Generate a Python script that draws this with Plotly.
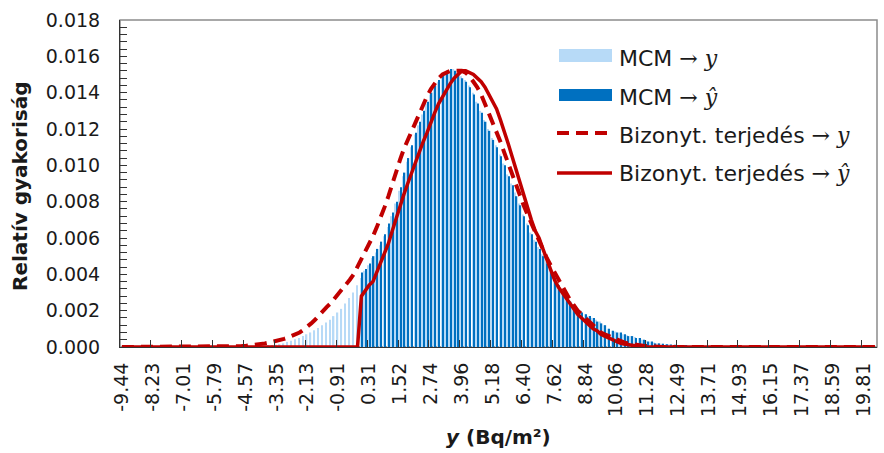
import plotly.graph_objects as go

# ---------------- data ----------------
bin_start = -9.44
bin_width = 0.15234375
n_bins = 196
bins = [round(bin_start + i * bin_width, 4) for i in range(n_bins)]

tick_labels = ["-9.44", "-8.23", "-7.01", "-5.79", "-4.57", "-3.35", "-2.13", "-0.91",
               "0.31", "1.52", "2.74", "3.96", "5.18", "6.40", "7.62", "8.84", "10.06",
               "11.28", "12.49", "13.71", "14.93", "16.15", "17.37", "18.59", "19.81"]

# MCM -> y  (relative frequency, bins 38..147)
mcm_y_active = [
    0.00008, 0.0001, 0.00012, 0.00016, 0.0002, 0.00028, 0.00035, 0.00042, 0.0005, 0.0006,
    0.0007, 0.0008, 0.00092, 0.00105, 0.0012, 0.00135, 0.0015, 0.0017, 0.0019, 0.0021,
    0.0024, 0.0027, 0.0030, 0.0034, 0.0038, 0.0042, 0.0045, 0.0049, 0.0052, 0.0056,
    0.0061, 0.0066, 0.0072, 0.0079, 0.0086, 0.0094, 0.0102, 0.0110, 0.0117, 0.0122,
    0.0128, 0.0134, 0.0139, 0.0142, 0.0146, 0.0149, 0.0151, 0.0152, 0.0153, 0.0151,
    0.0149, 0.0147, 0.0144, 0.0140, 0.0135, 0.0130, 0.0125, 0.0120, 0.0115, 0.0111,
    0.0106, 0.0101, 0.0095, 0.0090, 0.0085, 0.0079, 0.0073, 0.0068, 0.0063, 0.0059,
    0.0055, 0.0051, 0.0047, 0.0043, 0.0039, 0.0035, 0.0031, 0.0028, 0.0025, 0.0023,
    0.0021, 0.0020, 0.0018, 0.0017, 0.0016, 0.0015, 0.0014, 0.0012, 0.0010, 0.0009,
    0.00085, 0.0008, 0.0007, 0.00065, 0.0006, 0.00055, 0.0005, 0.0004, 0.00035, 0.0003,
    0.00025, 0.0002, 0.00018, 0.00016, 0.00015, 0.00012, 0.0001, 0.00008, 0.00006, 0.00004]
mcm_y = [0.0] * 38 + mcm_y_active + [0.0] * (n_bins - 38 - len(mcm_y_active))

# MCM -> y-hat (bins 62..147)
mcm_yhat_active = [
    0.0041, 0.0043, 0.0046, 0.0050, 0.0054, 0.0058, 0.0062, 0.0068, 0.0074, 0.0080,
    0.0088, 0.0096, 0.0104, 0.0111, 0.0118, 0.0124, 0.0130, 0.0135, 0.0140, 0.0144,
    0.0147, 0.0150, 0.0152, 0.0153, 0.0152, 0.0150, 0.0148, 0.0146, 0.0143, 0.0139,
    0.0134, 0.0129, 0.0124, 0.0119, 0.0114, 0.0110, 0.0105, 0.0100, 0.0094, 0.0089,
    0.0083, 0.0078, 0.0072, 0.0067, 0.0062, 0.0058, 0.0054, 0.0050, 0.0046, 0.0042,
    0.0038, 0.0034, 0.0030, 0.0027, 0.0025, 0.0023, 0.0021, 0.0019, 0.0018, 0.0017,
    0.0016, 0.0014, 0.0013, 0.0012, 0.0010, 0.0009, 0.0008, 0.0008, 0.0007, 0.0006,
    0.0006, 0.0005, 0.0005, 0.0004, 0.0003, 0.0003, 0.0002, 0.0002, 0.00018, 0.00015,
    0.00014, 0.00012, 0.0001, 0.00008, 0.00006, 0.00004]
mcm_yhat = [0.0] * 62 + mcm_yhat_active + [0.0] * (n_bins - 62 - len(mcm_yhat_active))

# Bizonyt. terjedes -> y (bins 28..138)
prop_y_active = [
    0.0, 0.00002, 0.00003, 0.00005, 0.00006, 0.00008, 0.0001, 0.00013, 0.00016, 0.0002,
    0.00024, 0.00028, 0.00033, 0.00039, 0.00045, 0.00052, 0.0006, 0.0007, 0.0008, 0.00095,
    0.0011, 0.0013, 0.0015, 0.00175, 0.0020, 0.0022, 0.0024, 0.00265, 0.0029, 0.00315,
    0.0034, 0.0037, 0.0040, 0.0044, 0.0048, 0.0052, 0.0057, 0.0061, 0.0066, 0.0071,
    0.0077, 0.0083, 0.0090, 0.0097, 0.0103, 0.0109, 0.0114, 0.0119, 0.0124, 0.0129,
    0.0134, 0.0138, 0.0142, 0.0145, 0.0148, 0.0150, 0.0151, 0.0152, 0.0152, 0.0152,
    0.0152, 0.0151, 0.0149, 0.0146, 0.0143, 0.0139, 0.0134, 0.0129, 0.0124, 0.0119,
    0.0113, 0.0107, 0.0101, 0.0095, 0.0089, 0.0083, 0.0078, 0.0073, 0.0068, 0.0063,
    0.0058, 0.0053, 0.0049, 0.0045, 0.0041, 0.0037, 0.0033, 0.0029, 0.0026, 0.0023,
    0.0020, 0.0018, 0.0016, 0.0014, 0.0012, 0.0010, 0.0008, 0.0007, 0.0006, 0.0005,
    0.0004, 0.0003, 0.00025, 0.0002, 0.00015, 0.00012, 0.0001, 0.00007, 0.00005, 0.00002,
    0.0]
prop_y = [0.0] * 28 + prop_y_active + [0.0] * (n_bins - 28 - len(prop_y_active))

# Bizonyt. terjedes -> y-hat (bins 61..135)
prop_yhat_active = [
    0.0, 0.0028, 0.0031, 0.0034, 0.0036, 0.0041, 0.0046, 0.0051, 0.0057, 0.0064,
    0.0071, 0.0078, 0.0084, 0.0090, 0.0096, 0.0101, 0.0107, 0.0113, 0.0118, 0.0124,
    0.0129, 0.0134, 0.0138, 0.0142, 0.0145, 0.0148, 0.0150, 0.0152, 0.0152, 0.0151,
    0.0150, 0.0148, 0.0146, 0.0143, 0.0139, 0.0135, 0.0131, 0.0125, 0.0119, 0.0112,
    0.0105, 0.0098, 0.0090, 0.0083, 0.0076, 0.0070, 0.0064, 0.0060, 0.0054, 0.0048,
    0.0042, 0.0037, 0.0033, 0.0030, 0.0027, 0.0024, 0.0021, 0.0018, 0.0016, 0.0014,
    0.0012, 0.0010, 0.0009, 0.0007, 0.0006, 0.0005, 0.0004, 0.0003, 0.00022, 0.00016,
    0.00012, 0.00008, 0.00005, 0.00003, 0.0]
prop_yhat = [0.0] * 61 + prop_yhat_active + [0.0] * (n_bins - 61 - len(prop_yhat_active))

# ---------------- styles ----------------
FONT = "DejaVu Sans"
LIGHT = "#B7DAF7"
DARK = "#0070C0"
RED = "#C00000"
TXT = "#1a1a1a"

fig = go.Figure()
fig.add_trace(go.Bar(x=bins, y=mcm_y, marker=dict(color=LIGHT, line=dict(width=0)),
                     name="MCM → y", showlegend=False))
fig.add_trace(go.Bar(x=bins, y=mcm_yhat, marker=dict(color=DARK, line=dict(width=0)),
                     name="MCM → ŷ", showlegend=False))
fig.add_trace(go.Scatter(x=bins, y=prop_y, mode="lines",
                         line=dict(color=RED, width=4, dash="12px,7px"),
                         name="Bizonyt. terjedés → y", showlegend=False))
fig.add_trace(go.Scatter(x=bins, y=prop_yhat, mode="lines",
                         line=dict(color=RED, width=3.5),
                         name="Bizonyt. terjedés → ŷ", showlegend=False))

tick_vals = [bins[i] for i in range(0, n_bins, 8)][:len(tick_labels)]
minor_vals = [bin_start + (8 * k - 0.5) * bin_width for k in range(1, 25)]

L, R, T, B = 120, 7, 20, 106
W, H = 884, 453
pw, ph = W - L - R, H - T - B

def px(x):
    return (x - L) / pw

def py(y):
    return (T + ph - y) / ph

fig.update_layout(
    width=W, height=H,
    margin=dict(l=L, r=R, t=T, b=B),
    paper_bgcolor="white", plot_bgcolor="white",
    barmode="group", bargap=0.28, bargroupgap=0.0,
    font=dict(family=FONT, color=TXT),
    xaxis=dict(
        range=[bin_start - bin_width / 2, bin_start + (n_bins - 0.5) * bin_width],
        tickmode="array", tickvals=tick_vals, ticktext=tick_labels,
        tickangle=-90, tickfont=dict(size=19, family=FONT, color=TXT),
        ticks="", showgrid=False, zeroline=False,
        showline=True, linecolor="#333333", linewidth=1,
        ticklabelstandoff=7,
        minor=dict(tickmode="array", tickvals=minor_vals, ticks="inside",
                   ticklen=7, tickcolor="#333333", showgrid=False),
    ),
    yaxis=dict(
        range=[0, 0.018], tickmode="linear", tick0=0, dtick=0.002,
        tickformat=".3f", tickfont=dict(size=19, family=FONT, color=TXT),
        ticks="inside", ticklen=7, tickcolor="#333333",
        ticklabelstandoff=15,
        minor=dict(dtick=0.0004, ticks="inside", ticklen=7, tickcolor="#333333", showgrid=False),
        showgrid=False, zeroline=False,
        showline=True, linecolor="#333333", linewidth=1,
    ),
)

# plot-area border (gray) on top/right
fig.add_shape(type="rect", xref="paper", yref="paper", x0=0, x1=1, y0=0, y1=1,
              line=dict(color="#8c8c8c", width=1.5), layer="below")

# custom legend
fig.add_shape(type="rect", xref="paper", yref="paper",
              x0=px(559), x1=px(612), y0=py(62), y1=py(49),
              fillcolor=LIGHT, line=dict(width=0))
fig.add_shape(type="rect", xref="paper", yref="paper",
              x0=px(559), x1=px(612), y0=py(101), y1=py(89),
              fillcolor=DARK, line=dict(width=0))
fig.add_shape(type="line", xref="paper", yref="paper",
              x0=px(557), x1=px(612), y0=py(133), y1=py(133),
              line=dict(color=RED, width=4, dash="12px,7px"))
fig.add_shape(type="line", xref="paper", yref="paper",
              x0=px(557), x1=px(612), y0=py(173), y1=py(173),
              line=dict(color=RED, width=3.5))

SER = "font-family:'DejaVu Serif';font-style:italic"
ARR = "<span style=\"font-family:'DejaVu Serif';font-weight:lighter\">→</span>"
legend_texts = [
    f"MCM {ARR} <span style=\"{SER}\">y</span>",
    f"MCM {ARR} <span style=\"{SER}\">ŷ</span>",
    f"Bizonyt. terjedés {ARR} <span style=\"{SER}\">y</span>",
    f"Bizonyt. terjedés {ARR} <span style=\"{SER}\">ŷ</span>",
]
legend_y = [58, 97, 135, 173]
for t, yy in zip(legend_texts, legend_y):
    fig.add_annotation(xref="paper", yref="paper", x=px(617), y=py(yy),
                       text=t, showarrow=False, xanchor="left", yanchor="middle",
                       font=dict(size=22, family=FONT, color=TXT))

# axis titles
fig.add_annotation(xref="paper", yref="paper", x=px(20), y=py(186),
                   text="<b>Relatív gyakoriság</b>", textangle=-90, showarrow=False,
                   xanchor="center", yanchor="middle",
                   font=dict(size=20, family=FONT, color=TXT))
fig.add_annotation(xref="paper", yref="paper", x=px(498), y=py(437),
                   text="<b><i>y</i> (Bq/m²)</b>", showarrow=False,
                   xanchor="center", yanchor="middle",
                   font=dict(size=20, family=FONT, color=TXT))

fig.write_html("out.html")
